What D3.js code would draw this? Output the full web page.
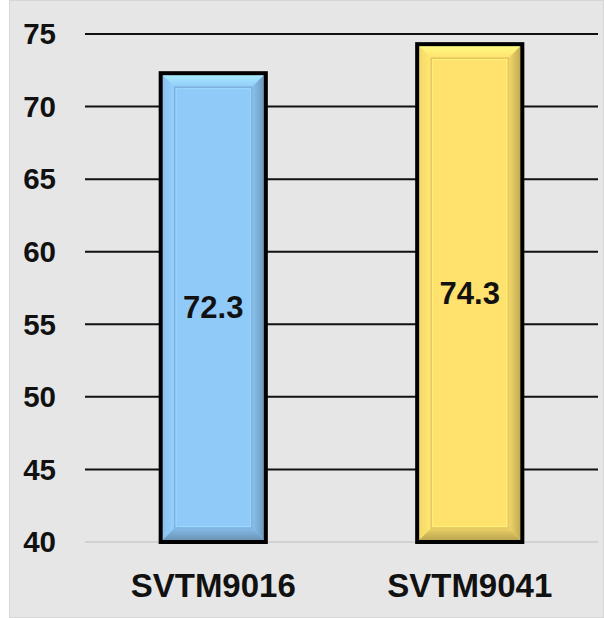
<!DOCTYPE html>
<html><head><meta charset="utf-8">
<script src="https://cdn.jsdelivr.net/npm/d3@7"></script>
<style>body{margin:0;background:#fff}svg{display:block}</style>
</head><body>
<script>
const categories = ["SVTM9016", "SVTM9041"];
const values = [72.3, 74.3];
const barColors = ["#90CAF9", "#FFE16E"];
const yTicks = [40, 45, 50, 55, 60, 65, 70, 75];

const W = 604, H = 618;
const FONT = "Liberation Sans, Arial, sans-serif";
const svg = d3.select("body").append("svg").attr("width", W).attr("height", H);
const defs = svg.append("defs");
svg.append("rect").attr("x", 9.5).attr("y", 0.5).attr("width", W - 10).attr("height", H - 1)
  .attr("fill", "#e6e6e6").attr("stroke", "#d6d6d6").attr("stroke-width", 1);

const x = d3.scaleBand().domain(categories).range([85, 598]).paddingInner(0.59).paddingOuter(0.295);
const y = d3.scaleLinear().domain([40, 75]).range([542, 34]);

// gridlines
svg.append("g").selectAll("line").data(yTicks).join("line")
  .attr("x1", 85).attr("x2", 598)
  .attr("y1", d => y(d)).attr("y2", d => y(d))
  .attr("stroke", d => d === 40 ? "#d2d2d2" : "#111")
  .attr("stroke-width", 2);

// y axis labels
const yAxis = d3.axisLeft(y).tickValues(yTicks).tickSize(0).tickPadding(0);
const ga = svg.append("g").attr("transform", "translate(56,0)").call(yAxis);
ga.select(".domain").remove();
ga.selectAll("text").attr("font-family", FONT).attr("dy", "0.33em")
  .attr("font-size", 29.5).attr("font-weight", "bold").attr("fill", "#111");

// x axis labels
const xAxis = d3.axisBottom(x).tickSize(0).tickPadding(0);
const gx = svg.append("g").attr("transform", "translate(0,597)").call(xAxis);
gx.select(".domain").remove();
gx.selectAll("text").attr("font-family", FONT).attr("dy", 0).attr("y", 0)
  .attr("font-size", 33).attr("font-weight", "bold").attr("fill", "#111");

function grad(id, dir, c1, c2) {
  const g = defs.append("linearGradient").attr("id", id)
    .attr("x1", dir[0]).attr("y1", dir[1]).attr("x2", dir[2]).attr("y2", dir[3]);
  g.append("stop").attr("offset", 0).attr("stop-color", c1);
  g.append("stop").attr("offset", 1).attr("stop-color", c2);
  return `url(#${id})`;
}

// bars with bevel
const data = categories.map((c, i) => ({c, v: values[i], col: barColors[i]}));
const bw = 14;
data.forEach((d, i) => {
  const x0 = x(d.c), x1 = x0 + x.bandwidth(), y0 = y(d.v), y1 = y(40);
  const g = svg.append("g");
  const base = d3.color(d.col);
  const b = base.formatHex();
  g.append("rect").attr("x", x0).attr("y", y0).attr("width", x1 - x0).attr("height", y1 - y0)
    .attr("fill", d.col);
  const ix0 = x0 + bw, ix1 = x1 - bw, iy0 = y0 + bw, iy1 = y1 - bw;
  const poly = (pts, fill) => g.append("polygon").attr("points", pts.map(p => p.join(",")).join(" ")).attr("fill", fill);
  poly([[x0, y0], [x1, y0], [ix1, iy0], [ix0, iy0]],
    grad("t" + i, ["0", "0", "0", "1"], base.brighter(0.5).formatHex(), b));
  poly([[x0, y0], [ix0, iy0], [ix0, iy1], [x0, y1]],
    grad("l" + i, ["0", "0", "1", "0"], base.darker(0.15).formatHex(), base.brighter(0.1).formatHex()));
  poly([[x1, y0], [x1, y1], [ix1, iy1], [ix1, iy0]],
    grad("r" + i, ["0", "0", "1", "0"], base.darker(0.1).formatHex(), base.darker(0.9).formatHex()));
  poly([[x0, y1], [ix0, iy1], [ix1, iy1], [x1, y1]],
    grad("b" + i, ["0", "0", "0", "1"], base.darker(0.2).formatHex(), base.darker(1.0).formatHex()));
  g.append("rect").attr("x", ix0).attr("y", iy0).attr("width", ix1 - ix0).attr("height", iy1 - iy0)
    .attr("fill", d.col).attr("stroke", base.darker(0.35)).attr("stroke-width", 1.5);
  g.append("rect").attr("x", ix0 + 1.5).attr("y", iy0 + 1.5).attr("width", ix1 - ix0 - 3).attr("height", iy1 - iy0 - 3)
    .attr("fill", "none").attr("stroke", base.brighter(0.2)).attr("stroke-width", 1);
  g.append("rect").attr("x", x0).attr("y", y0).attr("width", x1 - x0).attr("height", y1 - y0)
    .attr("fill", "none").attr("stroke", "#000").attr("stroke-width", 4);
  g.append("text").attr("x", (x0 + x1) / 2).attr("y", (y0 + y1) / 2).attr("dy", "0.35em")
    .attr("text-anchor", "middle").attr("font-family", FONT)
    .attr("font-size", 31).attr("font-weight", "bold").attr("fill", "#111").text(d.v.toFixed(1));
});
</script>
</body></html>
